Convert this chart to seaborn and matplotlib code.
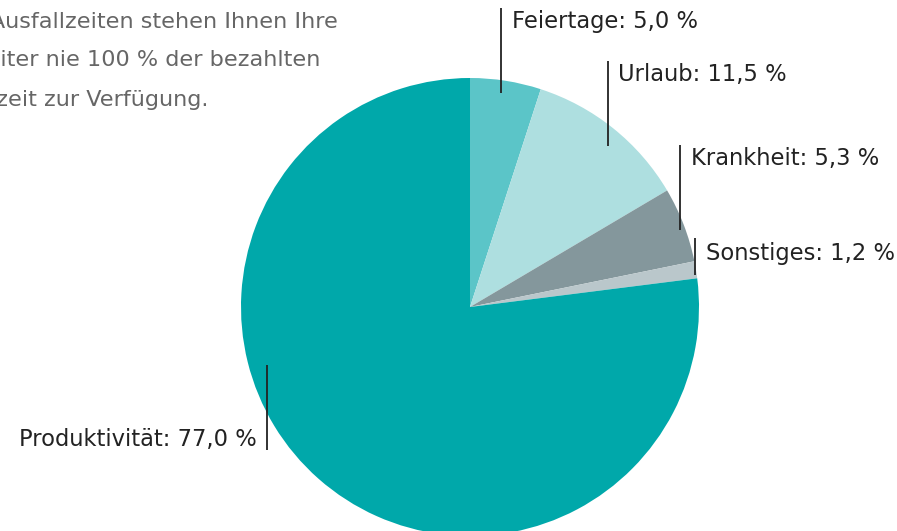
import matplotlib
matplotlib.use("Agg")
import matplotlib.pyplot as plt
import seaborn as sns

# Data
categories = ["Feiertage", "Urlaub", "Krankheit", "Sonstiges", "Produktivität"]
shares = [5.0, 11.5, 5.3, 1.2, 77.0]
colors = ["#5bc5c8", "#aedfe0", "#84979c", "#bac7cb", "#00a8aa"]

intro_lines = [
    "Durch Ausfallzeiten stehen Ihnen Ihre",
    "Mitarbeiter nie 100 % der bezahlten",
    "Arbeitszeit zur Verfügung.",
]

W, H = 897, 531

sns.set_theme(style="white")
plt.rcParams["font.family"] = ["DejaVu Sans"]

fig = plt.figure(figsize=(W / 100, H / 100), dpi=100)
ax = fig.add_axes([0, 0, 1, 1])


def py(y):
    # pixel row (from top) -> data y
    return H - y


# pie, clockwise from 12 o'clock
ax.pie(shares, colors=colors, startangle=90, counterclock=False,
       center=(470, py(307)), radius=229, frame=True,
       wedgeprops=dict(linewidth=0))
ax.set_xlim(0, W)
ax.set_ylim(0, H)
ax.set_aspect("equal")
ax.axis("off")

# label layout: text x, baseline y, line x, line top, line bottom, alignment
layout = [
    (512, 28, 501, 8, 93, "left"),
    (618, 81, 608, 61, 146, "left"),
    (691, 165, 680, 145, 230, "left"),
    (706, 260, 695, 238, 275, "left"),
    (257, 446, 267, 365, 450, "right"),
]

for name, val, (tx, ty, lx, l0, l1, ha) in zip(categories, shares, layout):
    label = f"{name}: {val:.1f} %".replace(".", ",")
    ax.plot([lx, lx], [py(l0), py(l1)], color="#222222", lw=1.3,
            solid_capstyle="butt")
    ax.text(tx, py(ty), label, ha=ha, va="baseline", fontsize=16.3,
            color="#222222")

# intro text, cut off at the left edge as in the original
intro_right = [338, 320, 208]
intro_base = [28, 66, 106]
for line, rx, by in zip(intro_lines, intro_right, intro_base):
    ax.text(rx, py(by), line, ha="right", va="baseline", fontsize=16.1,
            color="#666666")

fig.savefig("out.png", dpi=100)
